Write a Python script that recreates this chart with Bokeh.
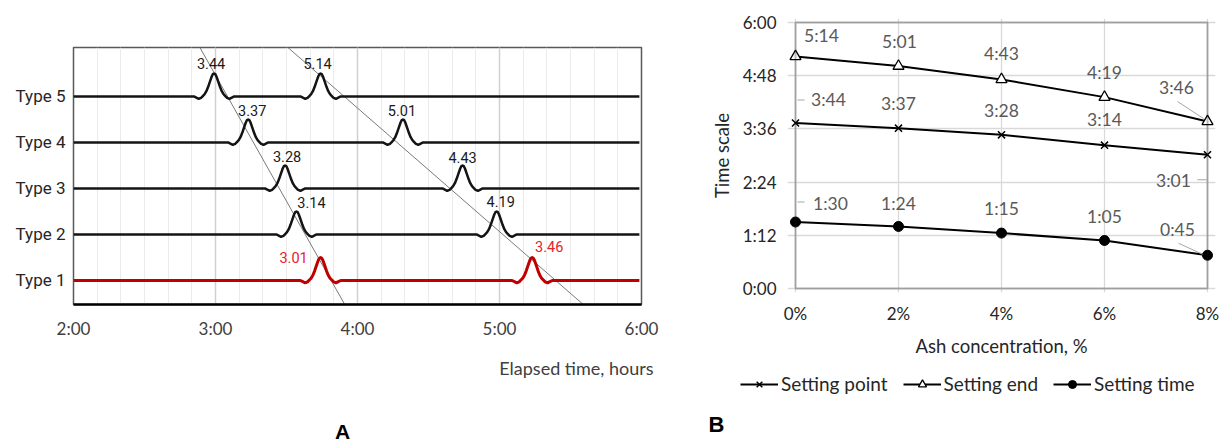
from bokeh.plotting import figure
from bokeh.layouts import row, column
from bokeh.models import (FixedTicker, Legend, LegendItem, BoxAnnotation,
                          ColumnDataSource, Title, Label)
from bokeh.core.properties import value
from bokeh.embed import file_html
from bokeh.resources import INLINE

# ---------------- Panel A data ----------------
type_names = ["Type 1", "Type 2", "Type 3", "Type 4", "Type 5"]
first_peak_h = [3.74, 3.57, 3.49, 3.23, 2.99]
second_peak_h = [5.23, 4.98, 4.74, 4.32, 3.74]
first_peak_label = ["3.01", "3.14", "3.28", "3.37", "3.44"]
second_peak_label = ["3.46", "4.19", "4.43", "5.01", "5.14"]
elapsed_ticks = [2, 3, 4, 5, 6]
elapsed_tick_labels = ["2:00", "3:00", "4:00", "5:00", "6:00"]
guide_top_h = [2.89, 3.51]
guide_bottom_h = [3.91, 5.59]
# pulse shape: minutes from the peak, share of peak height
pulse_dx_min = [-10, -8.5, -7.5, -6.5, -5.5, -4.75, -4, -3.25, -2.5, -1.75, -1, -0.5, 0,
                0.5, 1, 1.75, 2.5, 3.25, 4, 4.75, 5.5, 6.5, 7.5, 8.5, 10]
pulse_rel = [0, 0, -0.05, -0.1, -0.06, 0.02, 0.1, 0.23, 0.42, 0.65, 0.87, 0.97, 1.0,
             0.97, 0.87, 0.65, 0.42, 0.23, 0.1, 0.02, -0.06, -0.1, -0.05, 0, 0]

# ---------------- Panel B data ----------------
ash_pct = [0, 2, 4, 6, 8]
ash_tick_labels = ["0%", "2%", "4%", "6%", "8%"]
setting_point = ["3:44", "3:37", "3:28", "3:14", "3:01"]
setting_end = ["5:14", "5:01", "4:43", "4:19", "3:46"]
setting_time = ["1:30", "1:24", "1:15", "1:05", "0:45"]
time_ticks_min = [0, 72, 144, 216, 288, 360]
time_tick_labels = ["0:00", "1:12", "2:24", "3:36", "4:48", "6:00"]

# ---------------- styles / positions ----------------
PEAK_H = 0.5
A_Y0, A_Y1 = 0.478, 6.065
NARROW = "Roboto"
CAL = "Lato"

# label offsets (px) for panel A, index = type
l1_dx = [-27, 15, 2, 4, -3]
l1_dy = [-23, -32, -32, -32, -33]
l2_dx = [17, 4, 0, -1, -3]
l2_dy = [-34, -33, -31, -32, -33]


def strip(width, height):
    s = figure(width=width, height=height, x_range=(100, 101), y_range=(1000, 1001),
               output_backend="svg", toolbar_location=None,
               min_border_left=0, min_border_right=0, min_border_top=0,
               min_border_bottom=0)
    s.frame_align = False
    s.axis.visible = False
    s.grid.visible = False
    s.outline_line_color = None
    s.background_fill_color = "white"
    s.border_fill_color = "white"
    return s


# ================= Panel A =================
pA = figure(width=700, height=400, x_range=(2, 6), y_range=(A_Y0, A_Y1),
            output_backend="svg", toolbar_location=None,
            min_border_left=73, min_border_right=59, min_border_top=47,
            min_border_bottom=96)
pA.frame_align = False
pA.background_fill_color = "white"
pA.border_fill_color = "white"
pA.outline_line_color = "#595959"
pA.outline_line_width = 1.5

minor = [2 + k / 6 for k in range(25)]
tkA = FixedTicker(ticks=elapsed_ticks, minor_ticks=minor)
pA.xaxis.ticker = tkA
pA.xgrid.ticker = tkA
pA.xgrid.grid_line_color = "#d0d0d0"
pA.xgrid.grid_line_width = 1.5
pA.xgrid.minor_grid_line_color = "#ebebeb"
pA.xgrid.minor_grid_line_width = 1
pA.ygrid.visible = False
pA.xaxis.major_label_overrides = {t: s for t, s in zip(elapsed_ticks, elapsed_tick_labels)}
pA.xaxis.major_label_text_font = CAL
pA.xaxis.major_label_text_font_size = "17px"
pA.xaxis.major_label_text_color = "#404040"
pA.xaxis.major_label_standoff = 13
pA.xaxis.axis_line_color = "black"
pA.xaxis.axis_line_width = 2.5

pA.yaxis.ticker = FixedTicker(ticks=[1, 2, 3, 4, 5])
pA.yaxis.major_label_overrides = {i + 1: n for i, n in enumerate(type_names)}
pA.yaxis.major_label_text_font = NARROW
pA.yaxis.major_label_text_font_size = "17px"
pA.yaxis.major_label_text_color = "#262626"
pA.yaxis.major_label_standoff = 8
pA.yaxis.axis_line_color = None
for ax in (pA.xaxis[0], pA.yaxis[0]):
    ax.major_tick_line_color = None
    ax.minor_tick_line_color = None
    ax.major_tick_out = 0
    ax.major_tick_in = 0
    ax.minor_tick_out = 0
    ax.minor_tick_in = 0

# guide lines
pA.segment(x0=guide_top_h, y0=[A_Y1] * 2, x1=guide_bottom_h, y1=[A_Y0] * 2,
           line_color="#7a7a7a", line_width=1)

for i, name in enumerate(type_names):
    level = i + 1
    xs, ys = [2.0], [level]
    for c in sorted([first_peak_h[i], second_peak_h[i]]):
        for dx, r in zip(pulse_dx_min, pulse_rel):
            xs.append(c + dx / 60.0)
            ys.append(level + PEAK_H * r)
    xs.append(5.985)
    ys.append(level)
    red = (i == 0)
    pA.line(xs, ys, line_color="#c00000" if red else "#141414",
            line_width=3 if red else 2.5, line_join="round")

srcA = ColumnDataSource(dict(
    x=first_peak_h + second_peak_h,
    y=[i + 1 for i in range(5)] * 2,
    t=first_peak_label + second_peak_label,
    dx=l1_dx + l2_dx,
    dy=l1_dy + l2_dy,
    c=["#e8202a"] + ["#1a1a1a"] * 4 + ["#e8202a"] + ["#1a1a1a"] * 4,
))
pA.text(x="x", y="y", text="t", x_offset="dx", y_offset="dy", text_color="c",
        source=srcA, text_font=value(NARROW), text_font_size="14.5px",
        text_align="center", text_baseline="middle")

pA.add_layout(Title(text="Elapsed time, hours", align="right", offset=-12, standoff=27,
                    text_font=CAL, text_font_size="18px", text_font_style="normal",
                    text_color="#404040"), "below")

sA = strip(700, 46)
sA.add_layout(Label(x=342, y=15, x_units="screen", y_units="screen", text="A",
                    text_font="Liberation Sans", text_font_style="bold",
                    text_font_size="21px", text_color="black", text_align="center",
                    text_baseline="middle"))

# ================= Panel B =================
def to_min(s):
    h, m = s.split(":")
    return int(h) * 60 + int(m)

XPX = 8 / 412.0      # data units per pixel, x
YPX = 360 / 266.0    # data units per pixel, y
padx, pady = 8 * XPX, 4 * YPX

pB = figure(width=532, height=366, x_range=(-padx, 8 + padx), y_range=(-pady, 360 + pady),
            output_backend="svg", toolbar_location=None,
            min_border_left=87, min_border_right=17, min_border_top=18,
            min_border_bottom=74)
pB.frame_align = False
pB.outline_line_color = None
pB.background_fill_color = "white"
pB.border_fill_color = "white"

pB.xaxis.ticker = FixedTicker(ticks=ash_pct)
pB.xgrid.ticker = FixedTicker(ticks=ash_pct)
pB.yaxis.ticker = FixedTicker(ticks=time_ticks_min)
pB.ygrid.ticker = FixedTicker(ticks=time_ticks_min)
pB.xaxis.major_label_overrides = {t: s for t, s in zip(ash_pct, ash_tick_labels)}
pB.yaxis.major_label_overrides = {t: s for t, s in zip(time_ticks_min, time_tick_labels)}
for ax in (pB.xaxis[0], pB.yaxis[0]):
    ax.axis_line_color = None
    ax.major_tick_line_color = None
    ax.minor_tick_line_color = None
    ax.major_tick_out = 0
    ax.major_tick_in = 0
    ax.minor_tick_out = 0
    ax.minor_tick_in = 0
    ax.major_label_text_font = CAL
    ax.major_label_text_font_size = "17px"
    ax.major_label_text_color = "#262626"
    ax.axis_label_text_font = CAL
    ax.axis_label_text_font_size = "18.5px"
    ax.axis_label_text_font_style = "normal"
    ax.axis_label_text_color = "#262626"
pB.xaxis.major_label_standoff = 10
pB.yaxis.major_label_standoff = 11
pB.xaxis.axis_label = "Ash concentration, %"
pB.xaxis.axis_label_standoff = 8
pB.yaxis.axis_label = "Time scale"
pB.yaxis.axis_label_standoff = 7
pB.xgrid.grid_line_color = "#d9d9d9"
pB.ygrid.grid_line_color = "#d9d9d9"
pB.xgrid.grid_line_width = 1.3
pB.ygrid.grid_line_width = 1.3

pB.add_layout(BoxAnnotation(left=0, right=8, bottom=0, top=360, fill_color=None,
                            fill_alpha=0, line_color="#1a1a1a", line_width=2))

sp = [to_min(s) for s in setting_point]
se = [to_min(s) for s in setting_end]
st = [to_min(s) for s in setting_time]

series = [("Setting point", sp, dict(marker="x", size=10, line_color="black",
                                     line_width=1.5)),
          ("Setting end", se, dict(marker="triangle", size=11, line_color="black",
                                   fill_color="white", line_width=1.3)),
          ("Setting time", st, dict(marker="circle", size=10, line_color="black",
                                    fill_color="black"))]
for name, vals, mk in series:
    pB.line(ash_pct, vals, line_color="black", line_width=2)
    pB.scatter(ash_pct, vals, **mk)

# data label offsets (px)
se_dx = [26, 1, 0, 0, -31]
se_dy = [-21, -25, -26, -25, -34]
sp_dx = [33, 0, 0, 0, -34]
sp_dy = [-23, -25, -24, -26, 26]
st_dx = [35, 0, 0, 0, -30]
st_dy = [-19, -23, -25, -24, -26]

srcB = ColumnDataSource(dict(
    x=ash_pct * 3, y=se + sp + st, t=setting_end + setting_point + setting_time,
    dx=se_dx + sp_dx + st_dx, dy=se_dy + sp_dy + st_dy))
pB.text(x="x", y="y", text="t", x_offset="dx", y_offset="dy", source=srcB,
        text_font=value(CAL), text_font_size="17.5px", text_color="#595959",
        text_align="center", text_baseline="middle")

# leader lines (pixel offsets from the point, screen y down)
lead_pts = [(0, sp[0]), (0, st[0]), (8, sp[4]), (8, se[4]), (8, st[4])]
lead_off = [(2, -23, 9, -23), (2, -20, 9, -20), (-10, 25, -1, 25),
            (-30, -20, -4, -3), (-29, -12, -5, -1)]
x0 = [p[0] + o[0] * XPX for p, o in zip(lead_pts, lead_off)]
y0 = [p[1] - o[1] * YPX for p, o in zip(lead_pts, lead_off)]
x1 = [p[0] + o[2] * XPX for p, o in zip(lead_pts, lead_off)]
y1 = [p[1] - o[3] * YPX for p, o in zip(lead_pts, lead_off)]
pB.segment(x0=x0, y0=y0, x1=x1, y1=y1, line_color="#a6a6a6", line_width=1)

# ---- legend strip under panel B (its frame fills the strip) ----
pL = strip(532, 80)
items = []
for name, vals, mk in series:
    lr = pL.line(ash_pct, vals, line_color="black", line_width=2)
    mr = pL.scatter(ash_pct, vals, **mk)
    items.append(LegendItem(label=name, renderers=[lr, mr]))

legend = Legend(items=items, orientation="horizontal", location=(40, 51))
legend.border_line_color = None
legend.background_fill_alpha = 0
legend.label_text_font = CAL
legend.label_text_font_size = "19px"
legend.label_text_color = "#262626"
legend.glyph_width = 38
legend.glyph_height = 20
legend.label_standoff = 3
legend.spacing = 15
legend.padding = 7
legend.margin = 0
pL.add_layout(legend)

pL.add_layout(Label(x=16, y=22, x_units="screen", y_units="screen", text="B",
                    text_font="Liberation Sans", text_font_style="bold",
                    text_font_size="22px", text_color="black", text_align="center",
                    text_baseline="middle"))

layout = row(column(pA, sA), column(pB, pL))
open("out.html", "w").write(file_html(layout, INLINE))
